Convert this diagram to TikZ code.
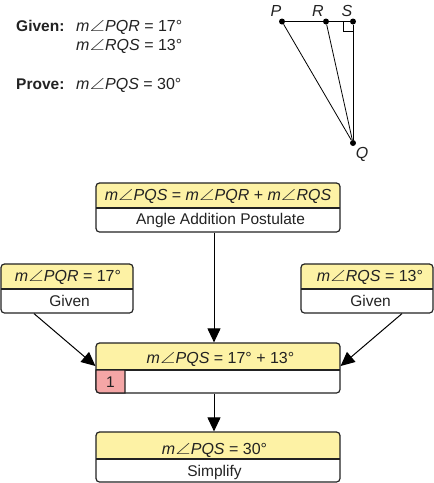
\documentclass[tikz,border=0pt]{standalone}
\usepackage{fontspec}
\setmainfont{Liberation Sans}
\usepackage{amssymb}
\usepackage{xcolor}
\usepackage{tikz}
\usetikzlibrary{arrows.meta}
\definecolor{headyellow}{HTML}{FDF2A5}
\definecolor{numred}{HTML}{F4A6A6}
\definecolor{inkgray}{HTML}{222222}
\newcommand{\ang}{\kern0.3pt\scalebox{1.3}[1]{$\angle$}\kern0.3pt}
\tikzset{
	proofbox/.style n args={3}{draw=inkgray, line width=1.2pt, rounded corners=3.5pt, inner sep=0pt, minimum height=#2, minimum width=#1,
		path picture={
			\fill[headyellow] (path picture bounding box.north west) rectangle ([yshift=-#3]path picture bounding box.east);
			\draw[inkgray, line width=1.2pt] ([yshift=-#3]path picture bounding box.west) -- ([yshift=-#3]path picture bounding box.east);
		}},
	label/.style={inner sep=0pt, font=\fontsize{16}{16}\selectfont, text=inkgray},
	note/.style={inner sep=0pt, font=\fontsize{15.5}{16}\selectfont, text=inkgray},
	point/.style={circle, fill=black, inner sep=0pt, minimum size=6pt},
	flow/.style={-{Triangle[length=14pt,width=13pt]}, line width=1pt, black},
	seg/.style={line width=0.8pt, black}
}
\begin{document}
\begin{tikzpicture}[x=1pt,y=-1pt]
			\useasboundingbox (0,0) rectangle (434,483);
			
			\node[note, anchor=base west] (given) at (16,31) {\textbf{Given:}};
			\node[label, anchor=base west] (g1) at (76,31) {\textit{m}\ang\textit{PQR} = 17°};
			\node[label, anchor=base west] (g2) at (76,50.5) {\textit{m}\ang\textit{RQS} = 13°};
			\node[note, anchor=base west] (prove) at (16,89) {\textbf{Prove:}};
			\node[label, anchor=base west] (p1) at (76,89) {\textit{m}\ang\textit{PQS} = 30°};
			
			\node[point] (P) at (282,21.5) {};
			\node[point] (R) at (326,21.5) {};
			\node[point] (S) at (353,21.5) {};
			\node[point] (Q) at (353,143) {};
			\node[label, anchor=base] (Plabel) at (276,16.5) {\textit{P}};
			\node[label, anchor=base] (Rlabel) at (318,16.5) {\textit{R}};
			\node[label, anchor=base] (Slabel) at (347,16.5) {\textit{S}};
			\node[label, anchor=base] (Qlabel) at (362,158) {\textit{Q}};
			\coordinate (A) at (343.5,21.5);
			\coordinate (B) at (343.5,31);
			\coordinate (C) at (353,31);
			
			\draw[seg] (P) -- (S);
			\draw[seg] (S) -- (Q);
			\draw[seg] (P) -- (Q);
			\draw[seg] (R) -- (Q);
			\draw[seg] (A) -- (B) -- (C);
			
			\node[proofbox={244pt}{49pt}{0.5pt}] (top) at (218,207.5) {};
			\node[proofbox={132pt}{49pt}{0.5pt}] (pqr) at (67,288.5) {};
			\node[proofbox={132pt}{49pt}{0.5pt}] (rqs) at (367,288.5) {};
			\node[proofbox={244pt}{50pt}{2pt}] (mid) at (218,368) {};
			\node[proofbox={244pt}{50pt}{2pt}] (end) at (218,457) {};
			\draw[inkgray, line width=1.2pt, fill=numred] (96,370) [rounded corners=3.5pt] -- (96,393) [sharp corners] -- (125,393) -- (125,370) -- cycle;
			
			\node[label] (toptext) at (218,196) {\textit{m}\ang\textit{PQS} = \textit{m}\ang\textit{PQR} + \textit{m}\ang\textit{RQS}};
			\node[note] (topnote) at (220.5,220.5) {Angle Addition Postulate};
			\node[label] (pqrtext) at (68,277) {\textit{m}\ang\textit{PQR} = 17°};
			\node[note] (pqrnote) at (69.5,301) {Given};
			\node[label] (rqstext) at (370,277) {\textit{m}\ang\textit{RQS} = 13°};
			\node[note] (rqsnote) at (370.5,301) {Given};
			\node[label] (midtext) at (220.5,359) {\textit{m}\ang\textit{PQS} = 17° + 13°};
			\node[note] (num) at (110.5,382) {1};
			\node[label] (endtext) at (214.5,450) {\textit{m}\ang\textit{PQS} = 30°};
			\node[note] (endnote) at (214.5,472.5) {Simplify};
			
			\draw[flow] ([xshift=-4pt]top.south) -- ([xshift=-4pt]mid.north);
			\draw[flow] ([xshift=-33pt]pqr.south) -- ([yshift=2pt]mid.west);
			\draw[flow] ([xshift=35pt]rqs.south) -- ([yshift=2pt]mid.east);
			\draw[flow] ([xshift=-4pt]mid.south) -- ([xshift=-4pt]end.north);
		\end{tikzpicture}
\end{document}
